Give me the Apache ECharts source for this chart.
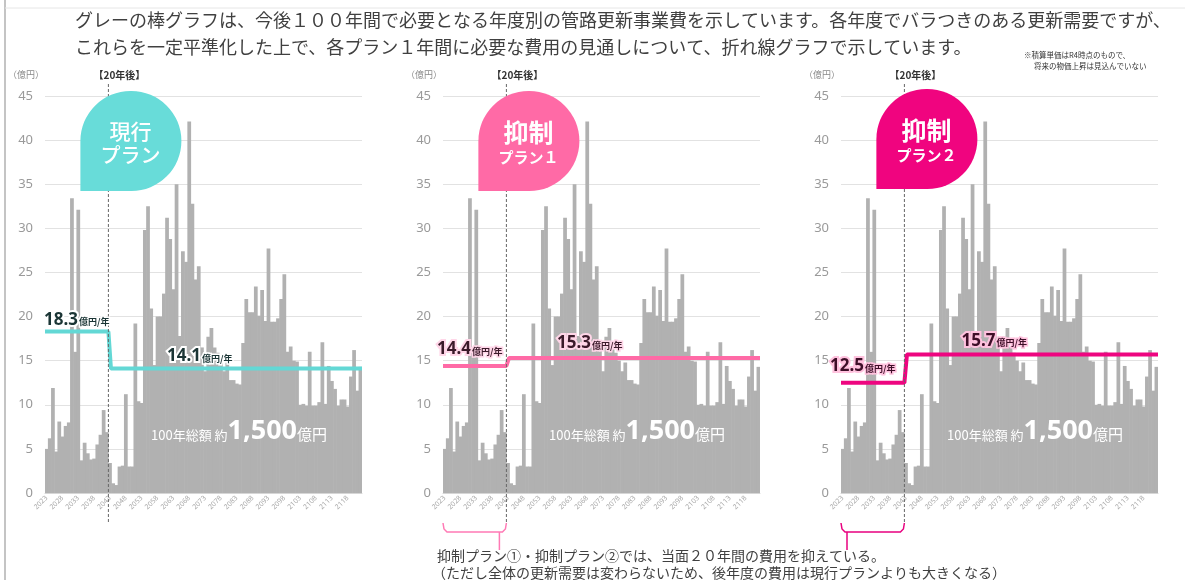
<!DOCTYPE html>
<html><head><meta charset="utf-8">
<script src="https://cdn.jsdelivr.net/npm/echarts/dist/echarts.min.js"></script>
<style>html,body{margin:0;padding:0;background:#fff;}#c{width:1185px;height:580px;}</style>
</head><body><div id="c"></div>
<script>
// ---- data ----
const years = ['2023','2024','2025','2026','2027','2028','2029','2030','2031','2032',
 '2033','2034','2035','2036','2037','2038','2039','2040','2041','2042',
 '2043','2044','2045','2046','2047','2048','2049','2050','2051','2052',
 '2053','2054','2055','2056','2057','2058','2059','2060','2061','2062',
 '2063','2064','2065','2066','2067','2068','2069','2070','2071','2072',
 '2073','2074','2075','2076','2077','2078','2079','2080','2081','2082',
 '2083','2084','2085','2086','2087','2088','2089','2090','2091','2092',
 '2093','2094','2095','2096','2097','2098','2099','2100','2101','2102',
 '2103','2104','2105','2106','2107','2108','2109','2110','2111','2112',
 '2113','2114','2115','2116','2117','2118','2119','2120','2121','2122'];
const costs = [5.0,6.2,11.9,4.7,8.1,6.4,7.6,8.0,33.4,16.0,
 32.1,3.7,5.7,4.5,3.8,3.9,5.5,6.6,9.4,6.9,
 3.4,1.1,0.9,3.0,3.1,11.2,3.0,3.0,19.2,10.4,
 10.2,29.8,32.5,20.9,14.5,20.0,20.0,22.6,31.2,28.8,
 23.1,35.0,17.8,27.4,26.2,42.1,32.8,24.2,25.7,16.5,
 13.8,17.7,18.7,16.5,15.9,15.0,13.8,14.8,12.8,12.8,
 12.4,12.3,17.0,22.0,20.5,20.5,23.4,20.1,23.0,19.5,
 27.7,19.4,19.4,19.8,22.0,24.8,16.0,16.6,15.0,14.9,
 10.0,10.1,9.9,16.0,9.9,9.9,10.3,17.1,10.1,14.4,
 12.7,11.8,9.9,10.6,10.6,9.8,13.2,16.2,11.6,14.3];
const planTitles = ['現行','抑制','抑制'];
const planSubtitles = ['プラン','プラン１','プラン２'];
const firstRates = [18.3, 14.4, 12.5];
const laterRates = [14.1, 15.3, 15.7];
const splitYear = 20;
const totalYears = 100;
const yMin = 0, yMax = 45, yStep = 5;
const totalText = ['100年総額 約', '1,500', '億円'];
const unitText = '（億円）';
const splitText = '【20年後】';
const rateUnit = '億円/年';
const headerLines = ['グレーの棒グラフは、今後１００年間で必要となる年度別の管路更新事業費を示しています。各年度でバラつきのある更新需要ですが、',
 'これらを一定平準化した上で、各プラン１年間に必要な費用の見通しについて、折れ線グラフで示しています。'];
const noteLines = ['※積算単価はR4時点のもので、', '将来の物価上昇は見込んでいない'];
const footerLines = ['抑制プラン①・抑制プラン②では、当面２０年間の費用を抑えている。',
 '（ただし全体の更新需要は変わらないため、後年度の費用は現行プランよりも大きくなる）'];

// ---- styles / layout ----
const JP = '"Noto Sans CJK JP", "Noto Sans", sans-serif';
const lineColors = ['#63d8d5', '#ff6aa6', '#ee0580'];
const bubbleColors = ['#68dcd9', '#ff6aa6', '#f0047f'];
const labelFill = ['#1b3535', '#3a1a2a', '#3e0f28'];
const labelGlow = ['#ffffff', '#ffd6e8', '#ffc2de'];
const BAR = '#b1b1b1';
const GL = [45, 443, 841], GT = 96, GW = 317, GH = 397;

const chart = echarts.init(document.getElementById('c'));
const grid = [], xAxis = [], yAxis = [], series = [];
for (let k = 0; k < 3; k++) {
  grid.push({left: GL[k], top: GT, width: GW, height: GH});
  xAxis.push({type: 'category', gridIndex: k, data: years, boundaryGap: true,
    axisTick: {show: false}, axisLine: {show: true, lineStyle: {color: '#d6d6d6'}},
    axisLabel: {interval: 4, rotate: 45, fontSize: 7, color: '#a8a8a8', margin: 4, fontFamily: 'Noto Sans'},
    splitLine: {show: false}});
  xAxis.push({type: 'value', gridIndex: k, min: 0, max: totalYears, show: false});
  yAxis.push({type: 'value', gridIndex: k, min: yMin, max: yMax, interval: yStep,
    axisLine: {show: false}, axisTick: {show: false},
    axisLabel: {fontSize: 13, color: '#9a9a9a', margin: 12, fontFamily: 'Noto Sans'},
    splitLine: {lineStyle: {color: '#e2e2e2', width: 1}}});
  series.push({type: 'bar', xAxisIndex: 2 * k, yAxisIndex: k, data: costs,
    barWidth: '118%', itemStyle: {color: BAR}, silent: true, z: 2});
  const a = firstRates[k], b = laterRates[k];
  series.push({type: 'line', xAxisIndex: 2 * k + 1, yAxisIndex: k,
    data: [[0, a], [splitYear, a], [splitYear + 0.8, b], [totalYears, b]],
    showSymbol: false, lineStyle: {width: 4, color: lineColors[k]}, z: 5, silent: true});
}
chart.setOption({animation: false, grid, xAxis, yAxis, series});

// ---- annotations ----
const g = [];
g.push({type: 'line', shape: {x1: 5, y1: 0, x2: 5, y2: 580}, style: {stroke: '#c4c4c4', lineWidth: 2}, z: 1});
g.push({type: 'line', shape: {x1: 5, y1: 8, x2: 1185, y2: 8}, style: {stroke: '#e6e6e6', lineWidth: 1}, z: 1});
g.push({type: 'text', x: 75, y: 20, style: {text: headerLines[0], font: '18px ' + JP, fill: '#404040', verticalAlign: 'middle'}});
g.push({type: 'text', x: 75, y: 47, style: {text: headerLines[1], font: '18px ' + JP, fill: '#404040', verticalAlign: 'middle'}});
g.push({type: 'text', x: 1024, y: 55, style: {text: noteLines[0], font: '7.5px ' + JP, fill: '#333', verticalAlign: 'middle'}});
g.push({type: 'text', x: 1034, y: 66, style: {text: noteLines[1], font: '7.5px ' + JP, fill: '#333', verticalAlign: 'middle'}});

const dx1 = [-1, -6, -11], dy1 = [13, 18, 18];
const lx2 = [38.5, 36, 38], dy2 = [14, 16, 15];
const bubbleTop = [91, 91, 89];
for (let k = 0; k < 3; k++) {
  const cv = (p) => chart.convertToPixel({xAxisIndex: 2 * k + 1, yAxisIndex: k}, p);
  const splitX = cv([splitYear, 0])[0];
  g.push({type: 'line', shape: {x1: splitX, y1: 84, x2: splitX, y2: 522},
    style: {stroke: '#666', lineWidth: 1, lineDash: [3, 2]}, z: 20});
  g.push({type: 'text', x: splitX + 11, y: 75, style: {text: splitText, font: 'bold 10px ' + JP, fill: '#333', align: 'center', verticalAlign: 'middle'}, z: 20});
  g.push({type: 'text', x: GL[k] - 19, y: 75, style: {text: unitText, font: '9px ' + JP, fill: '#8a8a8a', align: 'center', verticalAlign: 'middle'}, z: 20});
  const bx = splitX - 28, by = bubbleTop[k];
  g.push({type: 'rect', shape: {x: bx, y: by, width: 101, height: 100, r: [50, 50, 50, 0]},
    style: {fill: bubbleColors[k]}, z: 30});
  if (k === 0) {
    g.push({type: 'text', x: bx + 50, y: by + 40, style: {text: planTitles[k], font: '500 21px ' + JP, fill: '#fff', align: 'center', verticalAlign: 'middle'}, z: 31});
    g.push({type: 'text', x: bx + 50, y: by + 64, style: {text: planSubtitles[k], font: '500 20px ' + JP, fill: '#fff', align: 'center', verticalAlign: 'middle'}, z: 31});
  } else {
    g.push({type: 'text', x: bx + 50, y: by + 41, style: {text: planTitles[k], font: 'bold 25px ' + JP, fill: '#fff', align: 'center', verticalAlign: 'middle'}, z: 31});
    g.push({type: 'text', x: bx + 50, y: by + 66, style: {text: planSubtitles[k], font: 'bold 15px ' + JP, fill: '#fff', align: 'center', verticalAlign: 'middle'}, z: 31});
  }
  const rich = {
    n: {fontSize: 17, fontWeight: 'bold', fontFamily: 'Noto Sans', fill: labelFill[k], stroke: labelGlow[k], lineWidth: 4, verticalAlign: 'bottom', lineHeight: 20},
    u: {fontSize: 9, fontWeight: 'bold', fontFamily: JP, fill: labelFill[k], stroke: labelGlow[k], lineWidth: 3, verticalAlign: 'bottom', lineHeight: 16, padding: [0, 0, 2, 1]}
  };
  const p1 = cv([0, firstRates[k]]);
  g.push({type: 'text', x: p1[0] + dx1[k], y: p1[1] - dy1[k], z: 40,
    style: {text: '{n|' + firstRates[k].toFixed(1) + '}{u|' + rateUnit + '}', rich, verticalAlign: 'middle'}});
  const p2 = cv([lx2[k], laterRates[k]]);
  g.push({type: 'text', x: p2[0], y: p2[1] - dy2[k], z: 40,
    style: {text: '{n|' + laterRates[k].toFixed(1) + '}{u|' + rateUnit + '}', rich, verticalAlign: 'middle'}});
  g.push({type: 'text', x: GL[k] + 106, y: 430, z: 40,
    style: {text: '{a|' + totalText[0] + '}{b|' + totalText[1] + '}{c|' + totalText[2] + '}', verticalAlign: 'middle',
      rich: {
        a: {fontSize: 13, fontFamily: JP, fill: '#fff', verticalAlign: 'bottom', lineHeight: 18, padding: [0, 0, 3, 0]},
        b: {fontSize: 27, fontWeight: 'bold', fontFamily: 'Noto Sans', fill: '#fff', verticalAlign: 'bottom', lineHeight: 30},
        c: {fontSize: 15, fontFamily: JP, fill: '#fff', verticalAlign: 'bottom', lineHeight: 18, padding: [0, 0, 3, 0]}
      }}});
  if (k > 0) {
    const x0 = cv([0, 0])[0], x1 = splitX;
    const col = k === 1 ? '#ff7ab5' : '#e8007f';
    g.push({type: 'polyline', shape: {points: [[x0, 523], [x0 + 1, 529], [x0 + 4, 532], [x1 - 4, 532], [x1 - 1, 529], [x1, 523]]},
      style: {stroke: col, lineWidth: 1.5, fill: null}, z: 20});
    const sx = k === 1 ? x1 - 7 : x0 + 6;
    g.push({type: 'line', shape: {x1: sx, y1: 532, x2: sx, y2: 550}, style: {stroke: col, lineWidth: 1.5}, z: 20});
  }
}
g.push({type: 'text', x: 437, y: 556, style: {text: footerLines[0], font: '14px ' + JP, fill: '#404040', verticalAlign: 'middle'}});
g.push({type: 'text', x: 432, y: 573, style: {text: footerLines[1], font: '14px ' + JP, fill: '#404040', verticalAlign: 'middle'}});
chart.setOption({graphic: g});
</script></body></html>
